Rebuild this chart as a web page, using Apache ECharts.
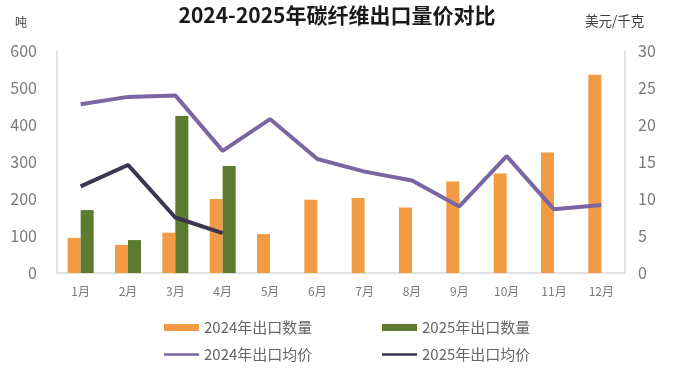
<!DOCTYPE html>
<html><head><meta charset="utf-8">
<script src="https://cdn.jsdelivr.net/npm/echarts@6/dist/echarts.min.js"></script>
<style>html,body{margin:0;padding:0;background:#fff}#c{width:674px;height:378px}</style>
</head><body><div id="c"></div>
<script>
const categories = ['1月','2月','3月','4月','5月','6月','7月','8月','9月','10月','11月','12月'];
const qty2024 = [95, 76, 109, 200, 105, 198, 203, 177, 247, 269, 326, 536];
const qty2025 = [170, 89, 424, 289];
const price2024 = [22.8, 23.8, 24.0, 16.5, 20.8, 15.4, 13.7, 12.5, 9.0, 15.8, 8.6, 9.2];
const price2025 = [11.7, 14.6, 7.5, 5.4];
const leftTicks = [0, 100, 200, 300, 400, 500, 600];
const rightTicks = [0, 5, 10, 15, 20, 25, 30];

const font = '"Noto Sans CJK SC", "Noto Sans", sans-serif';
const axisCol = '#d9d9d9';
const labCol = '#7a7a7a';
const cOrange = '#F39A44', cGreen = '#5C7A30', cPurple = '#7A66A3', cDark = '#3B3550';
const legendText = {fontFamily: font, fontSize: 15, color: '#666'};
function lg(name, left, top, icon) {
  return {data: [name], left: left, top: top, itemWidth: 35, itemHeight: 7, itemGap: 0,
    icon: icon, textStyle: legendText, selectedMode: false, padding: 0};
}
const linePath = 'path://M0,2.2 L35,2.2 L35,4.8 L0,4.8 Z';
const chart = echarts.init(document.getElementById('c'));
chart.setOption({
  animation: false,
  backgroundColor: '#fff',
  title: {text: '2024-2025年碳纤维出口量价对比', left: 'center', top: 0,
    textStyle: {fontFamily: font, fontSize: 21, fontWeight: 'bold', color: '#1a1a1a'}},
  graphic: [
    {type: 'text', left: 15, top: 16, style: {text: '吨', font: '12px ' + font, fill: '#404040'}},
    {type: 'text', left: 585, top: 14, style: {text: '美元/千克', font: '13.5px ' + font, fill: '#404040'}}
  ],
  legend: [
    lg('2024年出口数量', 164, 320, 'rect'),
    lg('2025年出口数量', 382, 320, 'rect'),
    lg('2024年出口均价', 164, 347, linePath),
    lg('2025年出口均价', 382, 347, linePath)
  ],
  grid: {left: 57, right: 49, top: 51, bottom: 105},
  xAxis: {type: 'category', data: categories,
    axisLine: {lineStyle: {color: axisCol, width: 1.5}}, axisTick: {show: false},
    axisLabel: {fontFamily: font, fontSize: 12, color: labCol, margin: 12}},
  yAxis: [
    {type: 'value', min: 0, max: 600, interval: 100, splitLine: {show: false},
      axisLine: {show: true, lineStyle: {color: axisCol, width: 1.5}}, axisTick: {show: false},
      axisLabel: {fontFamily: font, fontSize: 16, color: labCol, margin: 20,
        formatter: v => leftTicks.includes(v) ? String(v) : ''}},
    {type: 'value', min: 0, max: 30, interval: 5, splitLine: {show: false}, position: 'right',
      axisLine: {show: true, lineStyle: {color: axisCol, width: 1.5}}, axisTick: {show: false},
      axisLabel: {fontFamily: font, fontSize: 16, color: labCol, margin: 13,
        formatter: v => rightTicks.includes(v) ? String(v) : ''}}
  ],
  series: [
    {name: '2024年出口数量', type: 'bar', data: qty2024, barWidth: 13, barGap: '0%',
      itemStyle: {color: cOrange}},
    {name: '2025年出口数量', type: 'bar', data: qty2025, barWidth: 13, barGap: '0%',
      itemStyle: {color: cGreen}},
    {name: '2024年出口均价', type: 'line', yAxisIndex: 1, data: price2024, symbol: 'none',
      lineStyle: {color: cPurple, width: 4}, itemStyle: {color: cPurple}},
    {name: '2025年出口均价', type: 'line', yAxisIndex: 1, data: price2025, symbol: 'none',
      lineStyle: {color: cDark, width: 4}, itemStyle: {color: cDark}}
  ]
});
</script></body></html>
